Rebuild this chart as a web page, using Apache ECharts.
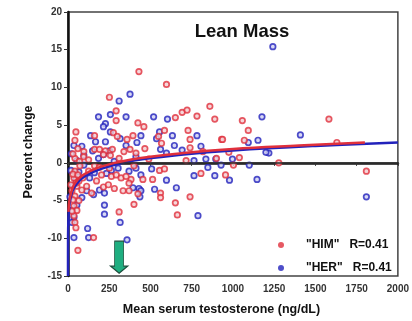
<!DOCTYPE html>
<html>
<head>
<meta charset="utf-8">
<script src="https://cdn.jsdelivr.net/npm/echarts@6/dist/echarts.min.js"></script>
<style>html,body{margin:0;padding:0;background:#fff;}#c{width:412px;height:321px;}</style>
</head>
<body>
<div id="c"></div>
<script>
// ---- data ----
const title = 'Lean Mass';
const xAxisTitle = 'Mean serum testosterone (ng/dL)';
const yAxisTitle = 'Percent change';
const seriesNames = ['"HIM"   R=0.41', '"HER"   R=0.41'];

const himPoints = [
  [430,12.1],[597,10.4],[251,8.7],[292,6.9],[292,5.6],[651,6.0],[692,6.7],[722,7.0],[860,7.5],[782,6.2],
  [890,5.8],[1057,5.6],[1093,4.3],[728,4.3],[931,3.1],[1069,3.0],[424,5.3],[460,4.8],[394,3.6],[585,4.3],
  [549,3.5],[740,3.1],[567,2.6],[466,1.9],[740,2.0],[412,1.3],[818,1.5],[490,0.5],[716,0.3],[900,0.6],
  [1582,5.8],[1630,2.7],[1809,-1.1],[1278,0],[937,3.1],[1039,0.7],[975,1.4],[1003,-0.3],[955,-1.6],[806,-1.4],
  [740,-4.5],[651,-5.3],[663,-6.9],[561,-4.0],[561,-4.6],[513,-2.2],[555,-1.0],[585,-0.8],[454,-2.2],[400,-5.5],
  [382,-2.2],[310,-6.5],[48,4.1],[42,3.0],[161,3.6],[275,4.0],[299,3.5],[358,3.1],[376,1.8],[60,1.9],
  [96,1.5],[161,1.8],[191,1.8],[227,1.6],[215,1.1],[269,1.8],[339,1.5],[42,0.6],[95,0.8],[257,1.0],
  [30,1.2],[70,0.2],[125,0.4],[310,0.6],[42,-1.1],[72,-0.4],[36,-2.0],[66,-2.4],[54,-3.1],[84,-3.6],
  [24,-3.7],[42,-4.4],[66,-5.0],[36,-5.7],[54,-6.3],[36,-7.0],[42,-7.9],[60,-11.6],[155,-9.9],[281,-3.4],
  [334,-3.7],[370,-3.7],[215,-3.2],[245,-2.9],[113,-3.1],[143,-4.0],[173,-2.4],[203,-1.6],[263,-1.8],[293,-1.6],
  [322,-2.0],[352,-1.8],[370,-2.7],[161,-0.4],[251,-0.7],[400,-0.4],[424,-4.1],[30,-1.5],[48,-2.7],[18,-2.9],
  [60,-1.6],[90,-2.0],[30,-4.9],[24,-6.4],[48,-8.6],[125,-1.1],[190,-0.6]
];

const herPoints = [
  [1242,15.4],[376,9.1],[310,8.2],[185,6.1],[257,6.4],[352,6.1],[227,5.2],[215,4.8],[519,6.1],[603,5.8],
  [782,3.6],[1176,6.1],[1152,3.0],[1093,2.7],[442,3.6],[633,3.6],[555,4.1],[418,2.7],[537,3.2],[561,1.8],
  [645,2.3],[806,2.2],[692,1.7],[764,0.3],[836,0.5],[896,0.5],[597,1.3],[1409,3.7],[1218,1.3],[1200,1.4],
  [1809,-4.5],[1099,-0.3],[1146,-2.2],[979,-2.3],[890,-1.7],[764,-1.7],[848,-0.6],[657,-3.3],[788,-7.0],[597,-2.3],
  [525,-3.5],[507,-0.8],[436,-3.6],[436,-4.5],[442,-1.6],[430,-3.4],[997,0.5],[928,-0.3],[257,4.1],[137,3.6],
  [167,2.8],[227,2.8],[316,3.2],[352,2.3],[36,2.3],[84,2.2],[96,1.0],[251,1.6],[215,1.1],[149,1.6],
  [412,0.8],[54,0.3],[185,0.6],[20,1.2],[36,-9.9],[125,-9.9],[119,-8.7],[316,-7.9],[358,-10.2],[221,-6.8],
  [221,-5.6],[155,-4.2],[113,-3.7],[84,-4.6],[54,-5.6],[24,-6.3],[36,-7.2],[24,-7.9],[191,-3.6],[221,-4.0],
  [394,-3.3],[442,-3.7],[263,-1.0],[304,-0.7],[370,-1.1],[96,-0.3],[412,-0.7],[233,-1.4],[131,-2.0],[18,-1.0],
  [48,-2.2],[30,-3.0],[12,-4.5],[66,-1.2],[160,-1.3],[280,0.2]
];

// regression curves, points
const himFit = [[3,-6.5],[10,-4.8],[30,-3.2],[60,-2.2],[100,-1.5],[200,-0.5],[400,0.5],[700,1.3],[1000,1.85],[1400,2.3],[1800,2.7]];
const herFit = [[0,-15],[0.3,-10.6],[1,-8.8],[5,-6.4],[15,-4.7],[30,-3.6],[60,-2.6],[100,-1.8],[200,-0.8],[400,0.3],[700,1.1],[1000,1.65],[1500,2.25],[2000,2.7]];

// annotation arrow position (x in ng/dL, y in %)
const arrowAt = [310, -12.5];

const xTicks = {min: 0, max: 2000, interval: 250};
const yTicks = {min: -15, max: 20, interval: 5};

// ---- chart ----
const RED = '#e0303c', BLUE = '#2222bb';
const chart = echarts.init(document.getElementById('c'), null, {renderer: 'canvas'});
const font = 'Liberation Sans, Arial, sans-serif';
const tickLabel = {fontFamily: font, fontSize: 10, fontWeight: 'bold', color: '#333', formatter: v => String(v)};

chart.setOption({
  animation: false,
  backgroundColor: '#fff',
  title: {
    text: title, left: 237, top: 17, textAlign: 'center',
    textStyle: {fontFamily: font, fontSize: 18.5, fontWeight: 'bold', color: '#111'}
  },
  legend: {
    data: [
      {name: seriesNames[0], itemStyle: {color: RED, borderWidth: 0}},
      {name: seriesNames[1], itemStyle: {color: BLUE, borderWidth: 0}}
    ],
    orient: 'vertical', left: 273, top: 234,
    itemWidth: 6, itemHeight: 6, itemGap: 11, icon: 'circle',
    textStyle: {fontFamily: font, fontSize: 12, fontWeight: 'bold', color: '#111', padding: [0, 0, 0, 17]}
  },
  grid: {left: 68, right: 9, top: 12, bottom: 42, show: true, borderColor: '#444', borderWidth: 1.5},
  xAxis: {
    type: 'value', min: xTicks.min, max: xTicks.max, interval: xTicks.interval,
    name: xAxisTitle, nameLocation: 'middle', nameGap: 27,
    nameTextStyle: {fontFamily: font, fontSize: 12.5, fontWeight: 'bold', color: '#111', padding: [0, 23, 0, 0]},
    axisLine: {show: true, lineStyle: {color: '#111', width: 2.5}},
    axisTick: {show: true, length: 3, lineStyle: {color: '#333'}},
    axisLabel: Object.assign({margin: 8}, tickLabel),
    splitLine: {show: false}
  },
  yAxis: {
    type: 'value', min: yTicks.min, max: yTicks.max, interval: yTicks.interval,
    name: yAxisTitle, nameLocation: 'middle', nameGap: 33, nameRotate: 90,
    nameTextStyle: {fontFamily: font, fontSize: 12.5, fontWeight: 'bold', color: '#111', padding: [0, 16, 0, 0]},
    axisLine: {show: true, lineStyle: {color: '#111', width: 2.5}},
    axisTick: {show: true, length: 4, lineStyle: {color: '#333'}},
    axisLabel: Object.assign({margin: 6}, tickLabel),
    splitLine: {show: false}
  },
  series: [
    {
      name: seriesNames[1], type: 'scatter', data: herPoints, symbolSize: 5.5,
      itemStyle: {color: '#d0d0f2', borderColor: BLUE, borderWidth: 1.7},
      markLine: {
        silent: true, symbol: 'none', label: {show: false},
        lineStyle: {color: '#333', width: 1.5, type: 'solid'},
        data: [{yAxis: 0}]
      },
      z: 2
    },
    {
      name: seriesNames[0], type: 'scatter', data: himPoints, symbolSize: 5.5,
      itemStyle: {color: '#f4cccf', borderColor: RED, borderWidth: 1.7},
      markPoint: {
        silent: true,
        symbol: 'path://M4,0 L13,0 L13,25 L17,25 L8.5,32 L0,25 L4,25 Z',
        symbolSize: [17, 32],
        itemStyle: {color: '#1fae80', borderColor: '#1d4d3c', borderWidth: 1},
        label: {show: false},
        data: [{coord: arrowAt}]
      },
      z: 3
    },
    {
      name: 'HER fit', type: 'line', data: herFit, smooth: 0.4, showSymbol: false,
      lineStyle: {color: BLUE, width: 2.5}, z: 4, silent: true
    },
    {
      name: 'HIM fit', type: 'line', data: himFit, smooth: 0.4, showSymbol: false,
      lineStyle: {color: RED, width: 2.5}, z: 5, silent: true
    }
  ]
});
</script>
</body>
</html>
